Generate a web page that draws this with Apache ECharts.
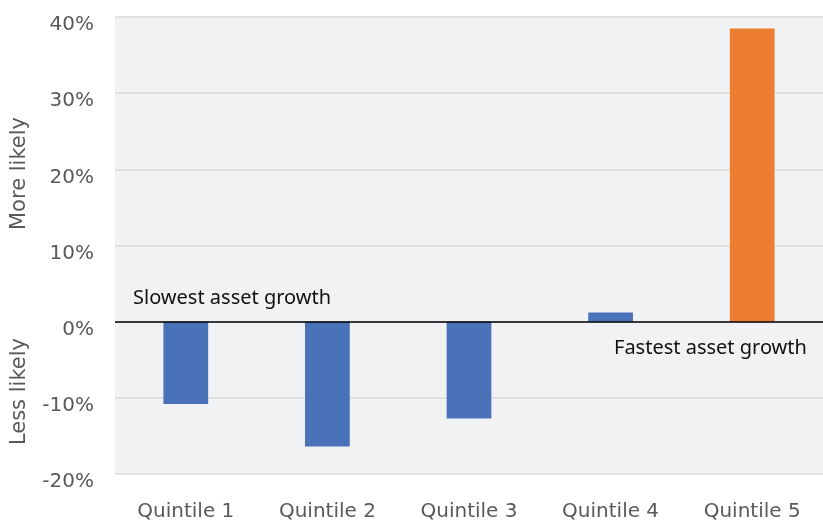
<!DOCTYPE html>
<html>
<head>
<meta charset="utf-8">
<script src="https://cdn.jsdelivr.net/npm/echarts@6/dist/echarts.min.js"></script>
<style>html,body{margin:0;padding:0;background:#fff}#c{width:823px;height:522px}</style>
</head>
<body>
<div id="c"></div>
<script>
const categories = ['Quintile 1', 'Quintile 2', 'Quintile 3', 'Quintile 4', 'Quintile 5'];
const values = [-10.8, -16.4, -12.7, 1.2, 38.5];
const yTicks = { min: -20, max: 40, interval: 10 };
const highlightIndex = 4;

const chart = echarts.init(document.getElementById('c'));
const labelFont = '"DejaVu Sans", sans-serif';
chart.setOption({
  animation: false,
  grid: { left: 115, top: 17, width: 711, height: 457, show: true, backgroundColor: '#f1f2f4', borderWidth: 0 },
  xAxis: {
    type: 'category', data: categories, position: 'bottom',
    axisLine: { show: false }, axisTick: { show: false },
    axisLabel: { color: '#595959', fontSize: 20, fontFamily: labelFont, margin: 28 }
  },
  yAxis: {
    type: 'value', min: yTicks.min, max: yTicks.max, interval: yTicks.interval,
    axisLine: { show: false }, axisTick: { show: false },
    axisLabel: { color: '#595959', fontSize: 20, fontFamily: labelFont, margin: 21, verticalAlign: 'top', lineHeight: 16, formatter: v => v + '%' },
    splitLine: { lineStyle: { color: '#d9d9d9', width: 1.5 } }
  },
  series: [{
    type: 'bar', data: values, barWidth: '31.6%',
    itemStyle: { color: p => p.dataIndex === highlightIndex ? '#ed7d31' : '#4a72b8' },
    markLine: {
      silent: true, symbol: 'none', label: { show: false },
      lineStyle: { color: '#000', width: 1.5, type: 'solid' },
      data: [{ yAxis: 0 }]
    }
  }],
  graphic: [
    { type: 'text', left: 9, top: 117, rotation: Math.PI / 2, style: { text: 'More likely', fill: '#595959', font: '21px ' + labelFont } },
    { type: 'text', left: 9, top: 338, rotation: Math.PI / 2, style: { text: 'Less likely', fill: '#595959', font: '21px ' + labelFont } },
    { type: 'text', style: { x: 133, y: 298, verticalAlign: 'middle', text: 'Slowest asset growth', fill: '#111', font: '20px "Noto Sans", sans-serif' } },
    { type: 'text', style: { x: 614, y: 348, verticalAlign: 'middle', text: 'Fastest asset growth', fill: '#111', font: '20px "Noto Sans", sans-serif' } }
  ]
});
</script>
</body>
</html>
